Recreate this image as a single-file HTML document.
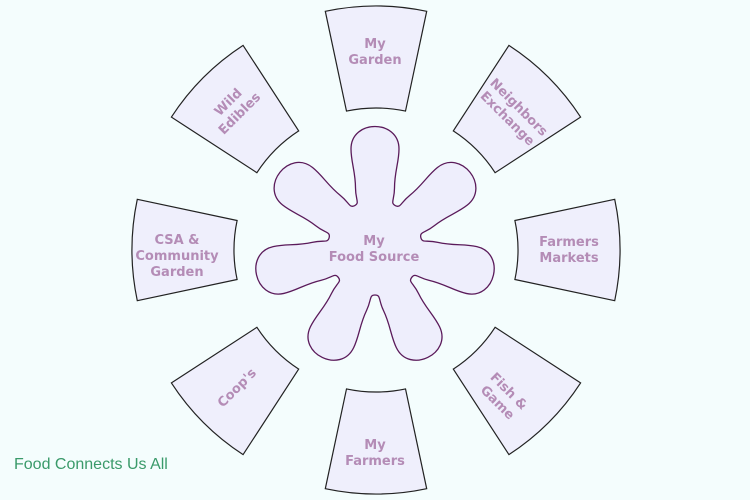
<!DOCTYPE html>
<html><head><meta charset="utf-8"><style>
html,body{margin:0;padding:0;background:#f4fdfd;}
svg{display:block}
.t{font-family:"DejaVu Sans",Verdana,sans-serif;font-weight:bold;font-size:13px;fill:#b48cb6;text-anchor:middle}
</style></head><body>
<svg id="s" width="750" height="500" viewBox="0 0 750 500">
<rect width="750" height="500" fill="#f4fdfd"/>
<g id="secs"></g>
<path id="fl" fill="#eeeefc" stroke="#5a1a5a" stroke-width="1.3"/>
<text class="t" x="374" y="245">My</text>
<text class="t" x="374" y="261">Food Source</text>
<text class="t" x="375" y="48">My</text>
<text class="t" x="375" y="64">Garden</text>
<text class="t" x="569" y="246">Farmers</text>
<text class="t" x="569" y="262">Markets</text>
<text class="t" x="375" y="449">My</text>
<text class="t" x="375" y="465">Farmers</text>
<text class="t" x="177" y="244">CSA &amp;</text>
<text class="t" x="177" y="260">Community</text>
<text class="t" x="177" y="276">Garden</text>
<g transform="translate(513,113) rotate(45)"><text class="t" x="0" y="-4">Neighbors</text><text class="t" x="0" y="12">Exchange</text></g>
<g transform="translate(234,108) rotate(-45)"><text class="t" x="0" y="-4">Wild</text><text class="t" x="0" y="12">Edibles</text></g>
<g transform="translate(503,397) rotate(45)"><text class="t" x="0" y="-4">Fish &amp;</text><text class="t" x="0" y="12">Game</text></g>
<g transform="translate(237,388) rotate(-45)"><text class="t" x="0" y="4">Coop's</text></g>
<text x="14" y="469" style="font-family:'Liberation Sans',sans-serif;font-size:16px;fill:#3a9a6a">Food Connects Us All</text>
</svg>
<script>
var cx=376,cy=250,ri=142,ro=244,ha=12*Math.PI/180,g=document.getElementById('secs'),h='';
function P(r,t){return (cx+r*Math.cos(t)).toFixed(1)+','+(cy+r*Math.sin(t)).toFixed(1);}
for(var k=0;k<8;k++){var a=(-90+45*k)*Math.PI/180;
h+='<path fill="#efeffc" stroke="#222" stroke-width="1.2" d="M'+P(ri,a-ha)+' L'+P(ro,a-ha)+' A'+ro+','+ro+' 0 0 1 '+P(ro,a+ha)+' L'+P(ri,a+ha)+' A'+ri+','+ri+' 0 0 0 '+P(ri,a-ha)+'Z"/>';}
g.innerHTML=h;
var fx=375,fy=248,va=Math.PI/7,vr=47;
var V=[vr*Math.cos(va),-vr*Math.sin(va)];
var segs=[
 [[V[0]+2.6,V[1]+5.4],[48,-19.5],[60,-19.5]],
 [[76,-19.5],[86,-24],[99,-24]],
 [[129,-24],[129,24],[99,24]],
 [[86,24],[76,19.5],[60,19.5]],
 [[48,19.5],[V[0]+2.6,-V[1]-5.4],[V[0],-V[1]]]
];
var d='';
for(var i=0;i<7;i++){var a=(-90+i*360/7)*Math.PI/180,c=Math.cos(a),s=Math.sin(a);
 function T(p){return (fx+p[0]*c-p[1]*s).toFixed(2)+','+(fy+p[0]*s+p[1]*c).toFixed(2);}
 if(i==0)d+='M'+T(V);
 for(var j=0;j<segs.length;j++)d+='C'+T(segs[j][0])+' '+T(segs[j][1])+' '+T(segs[j][2]);
}
document.getElementById('fl').setAttribute('d',d+'Z');
</script>
</body></html>
